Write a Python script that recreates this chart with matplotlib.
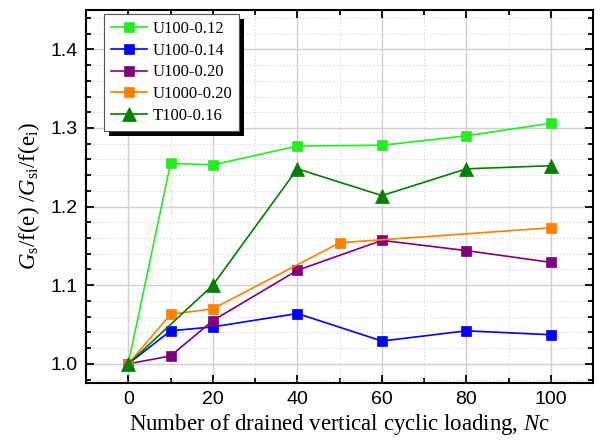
import matplotlib
matplotlib.use("Agg")
import matplotlib.pyplot as plt
from matplotlib.patches import Rectangle
from matplotlib.ticker import MultipleLocator

plt.rcParams['mathtext.fontset'] = 'custom'
plt.rcParams['mathtext.rm'] = 'Liberation Serif'
plt.rcParams['mathtext.it'] = 'Liberation Serif:italic'

# Data
x_u012 = [0, 10, 20, 40, 60, 80, 100]
y_u012 = [1.000, 1.255, 1.253, 1.277, 1.278, 1.290, 1.306]
x_u014 = [0, 10, 20, 40, 60, 80, 100]
y_u014 = [1.000, 1.042, 1.047, 1.064, 1.029, 1.042, 1.037]
x_u020 = [0, 10, 20, 40, 60, 80, 100]
y_u020 = [1.000, 1.010, 1.055, 1.119, 1.157, 1.144, 1.129]
x_u1000 = [0, 10, 20, 50, 100]
y_u1000 = [1.000, 1.063, 1.070, 1.154, 1.173]
x_t016 = [0, 20, 40, 60, 80, 100]
y_t016 = [1.000, 1.100, 1.248, 1.214, 1.248, 1.252]

labels = ['U100-0.12', 'U100-0.14', 'U100-0.20', 'U1000-0.20', 'T100-0.16']
colors = ['#22EE22', '#0000FF', '#800080', '#FF8000', '#008000']

fig = plt.figure(figsize=(6.04, 4.43), dpi=100)
ax = fig.add_axes([0.1424, 0.1361, 0.9823 - 0.1424, 0.9774 - 0.1361])

series = [(x_u012, y_u012, 's'), (x_u014, y_u014, 's'), (x_u020, y_u020, 's'),
          (x_u1000, y_u1000, 's'), (x_t016, y_t016, '^')]
for (xs, ys, m), lab, c in zip(series, labels, colors):
    ms = 7.8 if m == 's' else 10
    ax.plot(xs, ys, marker=m, color=c, lw=1.2, ms=ms, mec=c, mew=0.5, label=lab,
            zorder=3)

ax.set_xlim(-10, 110)
ax.set_ylim(0.976, 1.45)
ax.xaxis.set_major_locator(MultipleLocator(20))
ax.xaxis.set_minor_locator(MultipleLocator(10))
ax.yaxis.set_major_locator(MultipleLocator(0.1))
ax.yaxis.set_minor_locator(MultipleLocator(0.02))
ax.yaxis.set_major_formatter(matplotlib.ticker.FormatStrFormatter('%.1f'))

ax.grid(which='major', color='#d0d0d0', lw=1.0, zorder=0)
ax.grid(which='minor', color='#d0d0d0', lw=0.8, ls=(0, (1, 2)), zorder=0)
ax.set_axisbelow(True)

ax.tick_params(which='both', direction='in', top=True, right=True, width=1.3,
               labelsize=14, colors='black', pad=6)
ax.tick_params(which='major', length=6)
ax.tick_params(which='minor', length=3.5)
for lab in ax.get_xticklabels() + ax.get_yticklabels():
    lab.set_fontfamily('Liberation Sans')
for s in ax.spines.values():
    s.set_linewidth(1.5)

ax.set_xlabel('Number of drained vertical cyclic loading, $\\it{N}$c',
              fontfamily='Liberation Serif', fontsize=16.5, labelpad=3)
ax.set_ylabel('$G_{\\rm s}$/f(e) /$G_{\\rm si}$/f(e$_{\\rm i}$)',
              fontfamily='Liberation Serif', fontsize=16.5, labelpad=6)

leg = ax.legend(loc='upper left', bbox_to_anchor=(0.0355, 0.989), borderaxespad=0,
                prop={'family': 'Liberation Serif', 'size': 12}, frameon=True,
                fancybox=False, edgecolor='#555555', framealpha=1,
                handlelength=2.2, handletextpad=0.3, labelspacing=0.35,
                borderpad=0.4)
leg.get_frame().set_linewidth(0.8)
leg.set_zorder(6)

fig.canvas.draw()
bb = leg.get_window_extent()
off = 5
shadow = Rectangle((bb.x0 + off, bb.y0 - off), bb.width, bb.height,
                   transform=None, facecolor='black', edgecolor='none', zorder=5.5)
ax.add_artist(shadow)

fig.savefig('out.png', dpi=100)
